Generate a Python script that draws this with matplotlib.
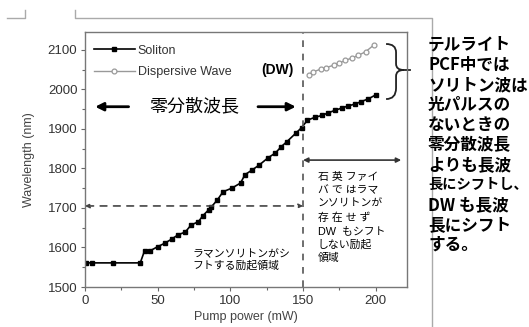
import matplotlib
matplotlib.use("Agg")
import matplotlib.pyplot as plt
from matplotlib.path import Path
from matplotlib.patches import PathPatch
from matplotlib.lines import Line2D

plt.rcParams['font.family'] = ['Liberation Sans', 'Noto Sans CJK JP']

# soliton wavelength vs pump power
soliton_power = [1, 4.5, 19, 38, 41, 45, 50, 55, 60, 64, 69, 73, 78, 81, 85, 87,
                 91, 95, 101, 107, 110, 115, 120, 126, 131, 135, 139, 145, 149,
                 153, 158, 163, 167, 172, 177, 181, 186, 190, 195, 200]
soliton_wl = [1561, 1561, 1561, 1561, 1592, 1592, 1602, 1611, 1622, 1632, 1639,
              1657, 1665, 1680, 1695, 1703, 1720, 1741, 1750, 1763, 1784, 1796,
              1809, 1827, 1839, 1855, 1868, 1889, 1903, 1922, 1929, 1934, 1940,
              1947, 1953, 1958, 1963, 1969, 1976, 1986]

# dispersive wave (only above 150 mW)
dw_power = [154, 157, 162, 166, 171, 175, 179, 184, 188, 193, 199]
dw_wl = [2037, 2044, 2051, 2055, 2061, 2067, 2073, 2080, 2086, 2095, 2113]

x_ticks = [0, 50, 100, 150, 200]
y_ticks = [1500, 1600, 1700, 1800, 1900, 2000, 2100]

zdw_level = 1705      # zero-dispersion wavelength guide
pump_edge = 150

right_note = ["テルライト", "PCF中では", "ソリトン波は", "光パルスの", "ないときの",
              "零分散波長", "よりも長波", "長にシフトし、", "DW も長波",
              "長にシフト", "する。"]
box_note = "石 英 ファイ\nバ で はラマ\nンソリトンが\n存 在 せ ず\nDW  もシフト\nしない励起\n領域"
raman_note = "ラマンソリトンがシ\nフトする励起領域"

fig = plt.figure(figsize=(5.29, 3.27), dpi=100)

# thin page frame lines
frame_col = '#aaaaaa'
fig.add_artist(Line2D([7/529, 25/529, 25/529], [1-18/327, 1-18/327, 1-10/327],
                      transform=fig.transFigure, color=frame_col, lw=1))
fig.add_artist(Line2D([75/529, 75/529, 432/529, 432/529],
                      [1-10/327, 1-18/327, 1-18/327, 0],
                      transform=fig.transFigure, color=frame_col, lw=1))

ax = fig.add_axes([85/529, 1-287/327, 322/529, 255/327])

ax.plot(soliton_power, soliton_wl, '-s', color='black', lw=1.2, ms=3,
        label='Soliton')
ax.plot(dw_power, dw_wl, '-o', color='#999999', lw=1.0, ms=3.5,
        mfc='white', mec='#999999', mew=0.9, label='Dispersive Wave')

ax.set_xlim(0, 221.5)
ax.set_ylim(1500, 2145)
ax.set_xticks(x_ticks)
ax.set_yticks(y_ticks)
ax.set_xticks([25, 75, 125, 175], minor=True)
ax.set_yticks([1550, 1650, 1750, 1850, 1950, 2050], minor=True)
ax.tick_params(direction='out', length=3, width=0.8, colors='#666666',
               labelcolor='#333333', labelsize=9.5, pad=2.5)
ax.tick_params(which='minor', direction='out', length=2, width=0.8, colors='#666666')
for sp in ax.spines.values():
    sp.set_color('#777777')
    sp.set_linewidth(1.0)

ax.set_xlabel('Pump power (mW)', fontsize=9, color='#444444')
ax.set_ylabel('Wavelength (nm)', fontsize=9, color='#444444')
ax.xaxis.set_label_coords(0.5, -0.095)
ax.yaxis.set_label_coords(-0.155, 0.5)

leg = ax.legend(loc='upper left', frameon=False, fontsize=9, handlelength=3.3,
                handletextpad=0.2, labelspacing=0.75, borderaxespad=0.3,
                bbox_to_anchor=(0.0, 0.985))
for t in leg.get_texts():
    t.set_color('#333333')

ax.text(121, 2049, '(DW)', fontsize=10, fontweight='bold', va='center', ha='left')

# guide lines
ax.axvline(pump_edge, color='#555555', ls=(0, (4, 4)), lw=1.2)
ax.annotate('', xy=(pump_edge, zdw_level), xytext=(0, zdw_level),
            arrowprops=dict(arrowstyle='<|-|>', ls=(0, (4, 4)), lw=1.2,
                            color='#444444', mutation_scale=6,
                            shrinkA=0, shrinkB=0))

# zero-dispersion wavelength label with arrows
ax.annotate('', xy=(7, 1956), xytext=(30, 1956),
            arrowprops=dict(arrowstyle='-|>', lw=2, color='black',
                            mutation_scale=12, shrinkA=0, shrinkB=0))
ax.annotate('', xy=(145, 1956), xytext=(119, 1956),
            arrowprops=dict(arrowstyle='-|>', lw=2, color='black',
                            mutation_scale=12, shrinkA=0, shrinkB=0))
ax.text(75, 1956, '零分散波長', fontsize=13, ha='center', va='center')

# pump range above 150 mW
ax.annotate('', xy=(pump_edge, 1821), xytext=(217.5, 1821),
            arrowprops=dict(arrowstyle='<|-|>', lw=1.2, color='#333333',
                            mutation_scale=7, shrinkA=0, shrinkB=0))
ax.text(160, 1790, box_note, fontsize=7.8, ha='left', va='top', linespacing=1.4)
ax.text(74, 1595, raman_note, fontsize=7.8, ha='left', va='top', linespacing=1.1)

# curly brace grouping both curves
verts = [(0.935, 0.953), (0.966, 0.953), (0.966, 0.92),
         (0.966, 0.875),
         (0.966, 0.851), (0.99, 0.851),
         (0.966, 0.851), (0.966, 0.827),
         (0.966, 0.78),
         (0.966, 0.737), (0.935, 0.737)]
codes = [Path.MOVETO, Path.CURVE3, Path.CURVE3,
         Path.LINETO,
         Path.CURVE3, Path.CURVE3,
         Path.CURVE3, Path.CURVE3,
         Path.LINETO,
         Path.CURVE3, Path.CURVE3]
ax.add_patch(PathPatch(Path(verts, codes), transform=ax.transAxes, fill=False,
                       lw=1.3, color='#222222', clip_on=False))
ax.add_line(Line2D([0.99, 1.01], [0.851, 0.851], transform=ax.transAxes,
                   color='#222222', lw=1.3, clip_on=False))

# side note, one line at a time so the long line can be narrowed
for i, line in enumerate(right_note):
    size = 10.3 if len(line) > 6 else 12
    fig.text(428/529, 1-(45 + i*20)/327, line, fontsize=size, fontweight='bold',
             ha='left', va='center', family=['Noto Sans CJK JP', 'DejaVu Sans'])

fig.savefig('out.png', dpi=100)
